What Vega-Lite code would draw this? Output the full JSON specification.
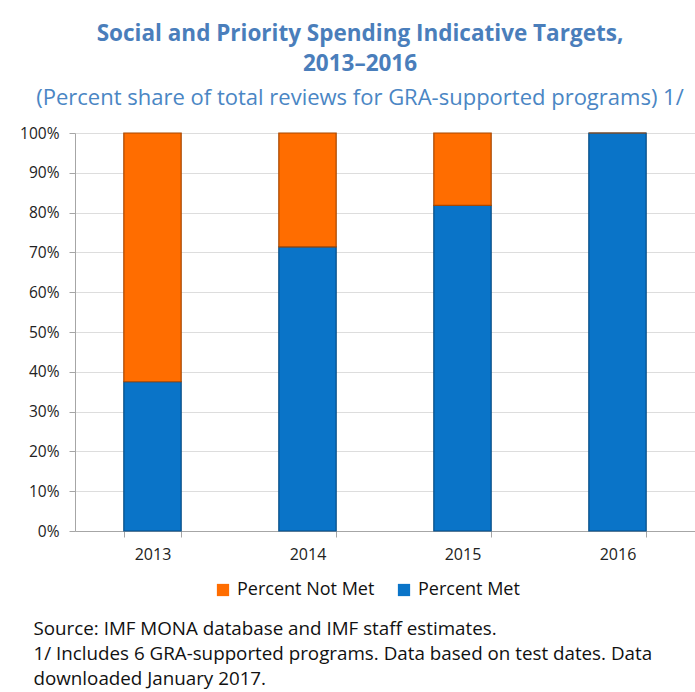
{
  "$schema": "https://vega.github.io/schema/vega-lite/v6.json",
  "width": 620,
  "height": 398,
  "autosize": {"type": "none"},
  "padding": {"left": 75, "top": 133, "right": 0, "bottom": 161},
  "background": "white",
  "title": {
    "text": ["Social and Priority Spending Indicative Targets,", "2013–2016"],
    "subtitle": "(Percent share of total reviews for GRA-supported programs) 1/",
    "anchor": "middle",
    "dx": -25,
    "offset": 17,
    "font": "Open Sans",
    "fontSize": 22.5,
    "fontWeight": "bold",
    "lineHeight": 30,
    "color": "#4A7EBB",
    "subtitleFont": "Open Sans",
    "subtitleFontSize": 22,
    "subtitleColor": "#4A86C4",
    "subtitlePadding": 13
  },
  "data": {
    "values": [
      {"year": "2013", "status": "Percent Met", "share": 0.375},
      {"year": "2013", "status": "Percent Not Met", "share": 0.625},
      {"year": "2014", "status": "Percent Met", "share": 0.714},
      {"year": "2014", "status": "Percent Not Met", "share": 0.286},
      {"year": "2015", "status": "Percent Met", "share": 0.818},
      {"year": "2015", "status": "Percent Not Met", "share": 0.182},
      {"year": "2016", "status": "Percent Met", "share": 1.0},
      {"year": "2016", "status": "Percent Not Met", "share": 0.0}
    ]
  },
  "transform": [
    {"calculate": "datum.status === 'Percent Met' ? 0 : 1", "as": "ord"}
  ],
  "mark": {"type": "bar", "strokeWidth": 1.2},
  "encoding": {
    "x": {
      "field": "year",
      "type": "nominal",
      "scale": {"paddingInner": 0.63, "paddingOuter": 0.315},
      "axis": {
        "labelAngle": 0,
        "labelFont": "Open Sans",
        "labelFontSize": 16,
        "labelColor": "#222",
        "labelPadding": 9,
        "tickBand": "extent",
        "tickSize": 6,
        "tickColor": "#A6A6A6",
        "domainColor": "#A6A6A6",
        "title": [
          "Source: IMF MONA database and IMF staff estimates.",
          "1/ Includes 6 GRA-supported programs. Data based on test dates. Data",
          "downloaded January 2017."
        ],
        "titleFont": "Open Sans",
        "titleFontSize": 18.8,
        "titleFontWeight": "normal",
        "titleColor": "#111",
        "titleAnchor": "start",
        "titleAlign": "left",
        "titleBaseline": "top",
        "titleX": -42,
        "titleY": 88,
        "titleLineHeight": 25
      }
    },
    "y": {
      "field": "share",
      "type": "quantitative",
      "stack": "zero",
      "scale": {"domain": [0, 1], "nice": false},
      "axis": {
        "format": ".0%",
        "values": [0, 0.1, 0.2, 0.3, 0.4, 0.5, 0.6, 0.7, 0.8, 0.9, 1.0],
        "labelFont": "Open Sans",
        "labelFontSize": 15.5,
        "labelColor": "#222",
        "labelPadding": 10,
        "tickSize": 6,
        "tickColor": "#A6A6A6",
        "domainColor": "#A6A6A6",
        "grid": true,
        "gridColor": "#DDDDDD",
        "title": null
      }
    },
    "color": {
      "field": "status",
      "type": "nominal",
      "scale": {"domain": ["Percent Not Met", "Percent Met"], "range": ["#FF6D00", "#0A74C8"]},
      "legend": {
        "title": null,
        "orient": "none",
        "direction": "horizontal",
        "legendX": 139,
        "legendY": 448,
        "symbolType": "square",
        "symbolSize": 150,
        "symbolStrokeWidth": 0,
        "labelFont": "Open Sans",
        "labelFontSize": 18,
        "labelColor": "#111",
        "labelOffset": 5,
        "columnPadding": 20
      }
    },
    "stroke": {
      "field": "status",
      "type": "nominal",
      "scale": {"domain": ["Percent Not Met", "Percent Met"], "range": ["#A84800", "#064C85"]},
      "legend": null
    },
    "order": {"field": "ord", "type": "quantitative"}
  },
  "config": {
    "view": {"stroke": null}
  }
}
